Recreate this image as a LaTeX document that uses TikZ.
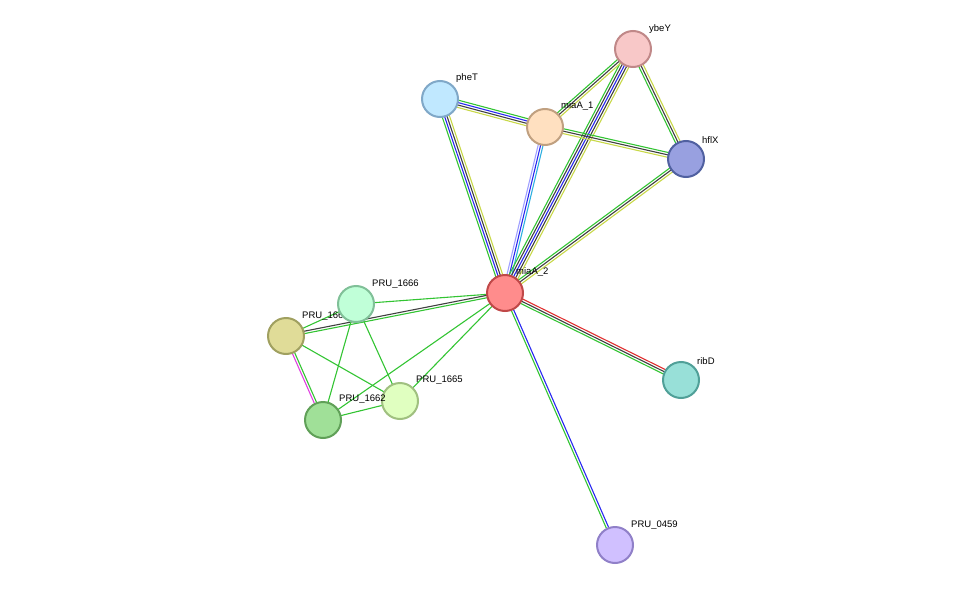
\documentclass[tikz,border=0pt]{standalone}
\usepackage{fontspec}
\setmainfont{Liberation Sans}
\usetikzlibrary{calc}
\definecolor{lgreen}{HTML}{33C433}
\definecolor{lyellow}{HTML}{C8D848}
\definecolor{lblue}{HTML}{2828F0}
\definecolor{lblack}{HTML}{404040}
\definecolor{lred}{HTML}{E03030}
\definecolor{lcyan}{HTML}{30B0E0}
\definecolor{llav}{HTML}{A0A0FF}
\definecolor{lmag}{HTML}{E040E0}
% draw parallel evidence lines between two proteins
\newcommand\linkline[4]{%
  \foreach \c [count=\i] in {#4} {%
    \pgfmathsetmacro\o{(\i-(#3+1)/2)*2.4}
    \draw[link,\c] ($(#1.center)!\o pt!90:(#2.center)$) -- ($(#2.center)!\o pt!-90:(#1.center)$);
  }}
\begin{document}
\begin{tikzpicture}[x=1pt,y=-1pt,
    link/.style={line width=1.1pt},
    prot/.style={circle, line width=2pt, minimum size=36pt, inner sep=0pt},
    lab/.style={anchor=south west, font=\fontsize{9.5}{10}\selectfont, inner sep=1pt},
  ]
\useasboundingbox (0,0) rectangle (976,591);
% -------------------------------------------------
% protein positions
\coordinate (miaA2) at (505,293);
\coordinate (ybeY) at (633,49);
\coordinate (pheT) at (440,99);
\coordinate (miaA1) at (545,127);
\coordinate (hflX) at (686,159);
\coordinate (p1666) at (356,304);
\coordinate (p1664) at (286,336);
\coordinate (p1665) at (400,401);
\coordinate (p1662) at (323,420);
\coordinate (ribD) at (681,380);
\coordinate (p0459) at (615,545);
% -------------------------------------------------
% links
\linkline{miaA2}{pheT}{4}{lyellow,lblack,lblue,lgreen}
\linkline{miaA2}{miaA1}{3}{lcyan,lblue,llav}
\linkline{miaA2}{ybeY}{5}{lyellow,lblack,lblue,lblack,lgreen}
\linkline{miaA2}{hflX}{3}{lyellow,lblack,lgreen}
\linkline{miaA2}{ribD}{3}{lgreen,lblack,lred}
\linkline{miaA2}{p0459}{2}{lgreen,lblue}
\linkline{miaA2}{p1666}{1}{lgreen}
\linkline{miaA2}{p1664}{2}{lblack,lgreen}
\linkline{miaA2}{p1662}{1}{lgreen}
\linkline{miaA2}{p1665}{1}{lgreen}
\linkline{pheT}{miaA1}{4}{lyellow,lblack,lblue,lgreen}
\linkline{miaA1}{ybeY}{3}{lyellow,lblack,lgreen}
\linkline{miaA1}{hflX}{3}{lyellow,lblack,lgreen}
\linkline{ybeY}{hflX}{3}{lgreen,lblack,lyellow}
\linkline{p1664}{p1666}{1}{lgreen}
\linkline{p1664}{p1662}{2}{lmag,lgreen}
\linkline{p1664}{p1665}{1}{lgreen}
\linkline{p1666}{p1662}{1}{lgreen}
\linkline{p1666}{p1665}{1}{lgreen}
\linkline{p1662}{p1665}{1}{lgreen}
% -------------------------------------------------
% proteins and labels
\node[prot, fill={rgb,255:red,255;green,140;blue,140}, draw={rgb,255:red,192;green,72;blue,72}] (nmiaA2) at (miaA2) {};
\node[lab] (tmiaA2) at (515,278) {miaA\_2};
\node[prot, fill={rgb,255:red,248;green,200;blue,200}, draw={rgb,255:red,192;green,136;blue,136}] (nybeY) at (ybeY) {};
\node[lab] (tybeY) at (648,35) {ybeY};
\node[prot, fill={rgb,255:red,192;green,232;blue,255}, draw={rgb,255:red,128;green,168;blue,200}] (npheT) at (pheT) {};
\node[lab] (tpheT) at (455,84) {pheT};
\node[prot, fill={rgb,255:red,255;green,224;blue,192}, draw={rgb,255:red,192;green,160;blue,128}] (nmiaA1) at (miaA1) {};
\node[lab] (tmiaA1) at (560,112) {miaA\_1};
\node[prot, fill={rgb,255:red,152;green,160;blue,224}, draw={rgb,255:red,80;green,96;blue,160}] (nhflX) at (hflX) {};
\node[lab] (thflX) at (701,145) {hflX};
\node[lab] (tp1664) at (301,322) {PRU\_1664};
\node[prot, fill={rgb,255:red,224;green,220;blue,152}, draw={rgb,255:red,160;green,160;blue,96}] (np1664) at (p1664) {};
\node[prot, fill={rgb,255:red,192;green,255;blue,216}, draw={rgb,255:red,128;green,192;blue,152}] (np1666) at (p1666) {};
\node[lab] (tp1666) at (371,290) {PRU\_1666};
\node[prot, fill={rgb,255:red,224;green,255;blue,192}, draw={rgb,255:red,160;green,192;blue,128}] (np1665) at (p1665) {};
\node[lab] (tp1665) at (415,386) {PRU\_1665};
\node[prot, fill={rgb,255:red,160;green,224;blue,152}, draw={rgb,255:red,96;green,160;blue,88}] (np1662) at (p1662) {};
\node[lab] (tp1662) at (338,405) {PRU\_1662};
\node[prot, fill={rgb,255:red,152;green,224;blue,216}, draw={rgb,255:red,80;green,160;blue,152}] (nribD) at (ribD) {};
\node[lab] (tribD) at (696,366) {ribD};
\node[prot, fill={rgb,255:red,208;green,192;blue,255}, draw={rgb,255:red,144;green,128;blue,200}] (np0459) at (p0459) {};
\node[lab] (tp0459) at (630,531) {PRU\_0459};
\end{tikzpicture}
\end{document}
